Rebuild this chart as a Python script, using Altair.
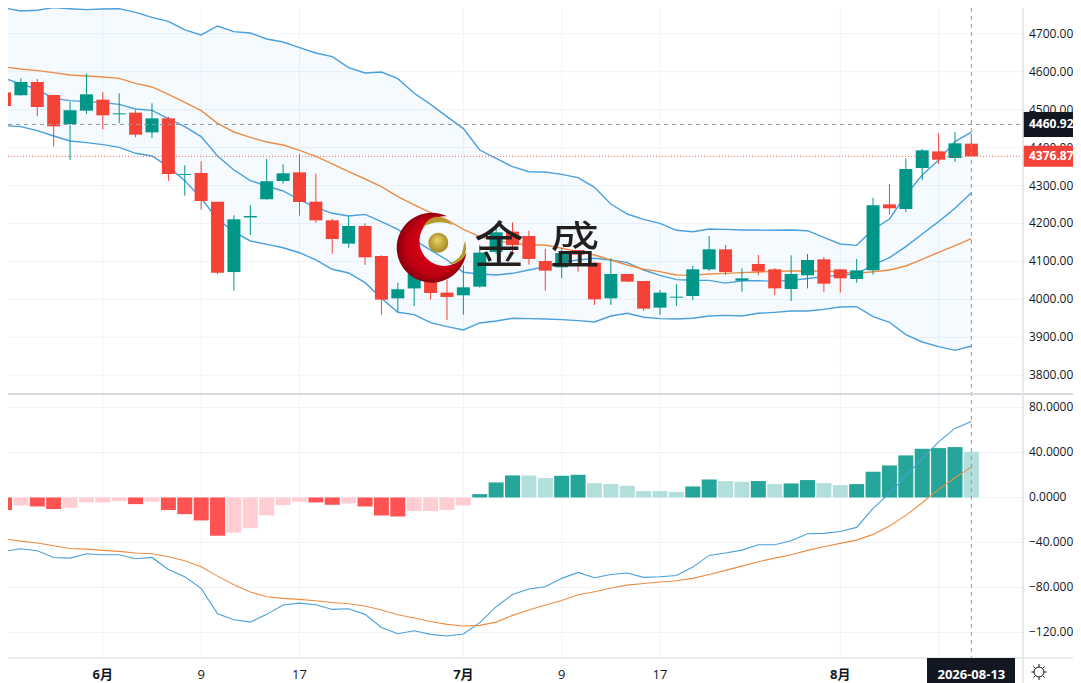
import altair as alt
import pandas as pd

opens = [4545.6,4537.7,4572.8,4538.6,4462.2,4497.3,4526.3,4487.6,4492,4440,
         4477,4328,4333,4257.5,4072,4216,4263.7,4312,4334.8,4257.5,
         4208.3,4146.9,4193.4,4114.4,4002.8,4029,4060,4017.8,4010.8,4033.6,
         4125,4178.5,4167,4101.2,4084.5,4130,4096.8,4002.8,4067,4048.5,
         3978.3,4004.6,4008.9,4079.2,4131.9,4049.3,4093.2,4079.2,4027.3,4063.4,
         4105.5,4079.2,4053.7,4076.5,4250.4,4238.1,4346.2,4390,4372.5,4410.3]
highs = [4547,4582.5,4580.7,4538.6,4521,4595.7,4546.5,4543,4499,4516.6,
         4481.5,4353.3,4363.8,4257.5,4221.5,4247.9,4370,4355.9,4383,4331.3,
         4212.7,4218.9,4200.5,4116,4044,4090,4065,4051,4090,4143.4,
         4197.8,4203,4181,4133.7,4135,4130,4098,4108.3,4067,4049,
         4024.8,4039.7,4088,4167,4143.3,4081.8,4117,4082.7,4116,4119.6,
         4111.7,4079.2,4106.4,4268,4304,4371.6,4396,4437.5,4441,4436]
lows = [4492,4537,4482.4,4403.3,4367.3,4488.5,4448,4464,4427,4425,
        4312,4273.3,4236.4,4066,4023,4169.7,4263,4305,4220.6,4202.2,
        4120.5,4136.3,4090.7,3959.8,3966,3982.6,4000,3945.8,3959.8,4031,
        4120,4125,4091.6,4023,4055.6,4073,3985.3,3985.3,4046,3970,
        3959,3982.6,3998.4,4074.8,4064.2,4020.3,4064,4011.5,3995.7,4029.1,
        4020.3,4017.7,4044,4065.1,4224,4230.2,4313.7,4356.7,4362,4376]
closes = [4509.6,4572.8,4507,4456,4498.2,4540.3,4485,4490.3,4434,4477,
          4330.4,4330.4,4259.3,4070.4,4211,4219.7,4311,4332.2,4256.6,4208.3,
          4159.1,4193.4,4110.9,3999.3,4026.6,4072,4016.9,4006.4,4031.8,4123.2,
          4176.8,4143,4106.5,4075.7,4122,4118,4000.2,4067,4046.8,3975.6,
          4017.8,4007.2,4079.2,4131.9,4072,4055.5,4073.9,4029.1,4066.9,4103.8,
          4041.4,4055.5,4076.5,4247.8,4239.9,4343.5,4392.7,4368.1,4411.2,4376.87]
band_upper = [4767.8,4759.9,4761.7,4768.7,4766,4763.4,4765.2,4766,4756.4,4743.2,
              4732.7,4709.9,4696.7,4720.4,4705.5,4701.9,4686.1,4678.2,4663.3,4649.2,
              4639.6,4610.6,4596.6,4599.2,4581.6,4543,4514,4481.5,4450,4393.6,
              4371.6,4349.7,4336.5,4335.6,4329.5,4320.7,4295.2,4251.3,4225,4211,
              4200.4,4182,4178.4,4185.4,4184.6,4182.8,4182.8,4182,4182.8,4181,
              4163.5,4145.9,4142.4,4184.6,4211.8,4275,4327.7,4367.3,4415.6,4441]
band_mid = [4582.5,4567.6,4553.5,4529.8,4523.6,4521,4518.4,4514,4501.7,4498.2,
            4476.2,4455.1,4428.8,4377.8,4341,4312.9,4298.8,4285.6,4261.9,4242.6,
            4226.8,4219.8,4224,4204.9,4184.7,4156.6,4130,4103.9,4071.4,4067,
            4064.3,4068.7,4077.5,4086.3,4097.7,4103.9,4108.3,4103.9,4096.8,4077.5,
            4063.4,4052,4050.3,4050,4043,4049,4049,4048,4050,4055,
            4060,4064,4067,4090.6,4110,4138.9,4172.3,4204.8,4239.9,4281]
band_lower = [4457.8,4455.1,4444.6,4430.6,4417.4,4413,4407.7,4400.7,4384.9,4377.9,
              4349.7,4312.9,4266.3,4211,4178.5,4153.9,4145,4136,4123,4103.9,
              4079.3,4069.6,4044.1,4002.8,3966,3959.8,3938.7,3928.2,3919.4,3937.9,
              3943.1,3950.2,3949.3,3948.4,3946.6,3944,3940.5,3956.3,3963.3,3952.8,
              3949.3,3948.4,3950.2,3956.2,3958,3956.2,3963.3,3965.9,3969.4,3969.4,
              3973.8,3980,3980.8,3954.5,3939.6,3907,3887.7,3875.4,3865.8,3877.2]
ma_line = [4612.4,4607,4602.7,4597.4,4591.3,4588.7,4586,4582.5,4569.3,4559.7,
           4540.3,4519.3,4497.3,4463.9,4441.1,4427,4414.7,4406.8,4392.8,4377,
           4356.8,4336.6,4317.2,4297,4270.7,4248.8,4228.6,4209.3,4184.7,4165.3,
           4154.8,4147.8,4143.4,4143.4,4134.6,4125.8,4117,4103.9,4090.7,4079.3,
           4073.1,4064.3,4064,4066.9,4068.6,4070.4,4072.1,4073.9,4074.8,4074.8,
           4074.8,4072.1,4068.6,4073,4077.4,4088,4105.5,4124,4141.5,4160]
macd_hist = [-11.2,-7.1,-8,-10.3,-9.1,-4.4,-4.4,-3.2,-5.9,-3.8,
             -11.2,-14.8,-20.4,-34,-31.3,-27.2,-16,-6.8,-3.8,-4.4,
             -6.5,-5.3,-8,-16,-16.9,-12.1,-12.1,-11.2,-7.1,3,
             13.4,19.6,19.6,17.2,19.3,20.2,12.8,11.9,10.4,5.7,
             5.7,4.8,9.8,16,14.6,14,14.6,11.9,12.5,15.5,
             12.8,11,11.9,22.9,28.5,37.4,43.3,43.9,44.8,40.7]
macd_dif = [-47.9,-45.6,-47.3,-53.3,-53.9,-50,-50.9,-50.9,-54.5,-53.3,
            -64,-70.5,-80.8,-103.3,-108.7,-110.8,-103.9,-95.6,-93.9,-95.4,
            -99.5,-98.9,-103.9,-115.5,-121.1,-118.5,-121.7,-123.2,-121.4,-111.3,
            -97.1,-86.2,-81.4,-79.3,-71.9,-66.6,-71.3,-68.4,-67.2,-71,
            -70.5,-69.3,-61.9,-51.5,-49.4,-46.8,-42,-42,-38.5,-32.2,
            -31.9,-30.2,-26.6,-9.7,3.6,19,34.7,49.5,61.4,67.6]
macd_dea = [-37,-38.8,-40.5,-42.9,-45.3,-45.9,-47,-47.9,-49.4,-50,
            -52.7,-56.2,-61.6,-69.9,-77.6,-84.1,-88.2,-89.7,-90.6,-91.8,
            -93.3,-94.5,-96.5,-100.1,-104.2,-107.2,-110.2,-112.8,-114.3,-113.7,
            -110.8,-104.8,-100.1,-95.6,-91.5,-86.5,-83.8,-80.5,-77.9,-76.4,
            -75.2,-74,-71.9,-68.4,-64.8,-61,-57.1,-53.9,-50.9,-47,
            -43.8,-40.8,-37.9,-32.8,-25.4,-15.9,-4.7,7.2,17.6,27]

x_tick_index = [6, 12, 18, 28, 34, 40, 51]
x_tick_labels = ["6月", "9", "17", "7月", "9", "17", "8月"]
x_tick_weight = ["bold", "normal", "normal", "bold", "normal", "normal", "bold"]
extra_grid_index = [57]
price_ticks = [3800, 3900, 4000, 4100, 4200, 4300, 4400, 4500, 4600, 4700]
macd_ticks = [-120, -80, -40, 0, 40, 80]
crosshair_price = 4460.92
last_price = 4376.87
crosshair_date = "2026-08-13"
crosshair_index = 59

FONT = "Open Sans, Noto Sans CJK SC"
INK = "#131722"
GRID = "#f0f3fa"
SEP = "#e0e3eb"
UP = "#009688"
DOWN = "#f44336"
BLUE = "#4a9fdc"
ORANGE = "#ec8d44"
CROSS = "#9598a1"
LABEL_X = 1021

n = len(closes)
idx = list(range(n))
hist_state = []
for k, v in enumerate(macd_hist):
    prev = macd_hist[k - 1] if k else 0
    if v >= 0:
        hist_state.append("up strong" if v > prev else "up weak")
    else:
        hist_state.append("down strong" if v < prev else "down weak")

df = pd.DataFrame({
    "i": idx, "open": opens, "high": highs, "low": lows, "close": closes,
    "upper": band_upper, "mid": band_mid, "lower": band_lower, "ma": ma_line,
    "hist": macd_hist, "zero": [0] * n, "dif": macd_dif, "dea": macd_dea,
    "state": hist_state,
    "dir": ["up" if c >= o else "down" for o, c in zip(opens, closes)],
})

x_scale = alt.Scale(domain=[0.2136, 62.15], nice=False, zero=False, padding=0)
price_scale = alt.Scale(domain=[3750.7, 4767.8], range=[386, 0], nice=False, zero=False)
macd_scale = alt.Scale(domain=[-142.7, 92], range=[650, 386], nice=False, zero=False)

X = alt.X("i:Q", scale=x_scale, axis=None, title=None)


def py(field):
    return alt.Y(f"{field}:Q", scale=price_scale, axis=None, title=None)


def my(field):
    return alt.Y(f"{field}:Q", scale=macd_scale, axis=None, title=None)


candle_color = alt.Color("dir:N", legend=None,
                         scale=alt.Scale(domain=["up", "down"], range=[UP, DOWN]))

price_tick_df = pd.DataFrame({"v": price_ticks, "t": [f"{v:.2f}" for v in price_ticks]})
macd_tick_df = pd.DataFrame({"v": macd_ticks,
                             "t": [f"{v:.4f}".replace("-", "−") for v in macd_ticks]})
x_tick_df = pd.DataFrame({"i": x_tick_index, "t": x_tick_labels, "w": x_tick_weight})
x_grid_df = pd.DataFrame({"i": x_tick_index + extra_grid_index})

x_grid = alt.Chart(x_grid_df).mark_rule(color=GRID, strokeWidth=1).encode(
    x=X, y=alt.value(0), y2=alt.value(650))
x_bold = alt.Chart(x_tick_df[x_tick_df.w == "bold"]).mark_text(
    font=FONT, fontSize=13, fontWeight="bold", color=INK, baseline="middle").encode(
    x=X, y=alt.value(667), text="t:N")
x_plain = alt.Chart(x_tick_df[x_tick_df.w == "normal"]).mark_text(
    font=FONT, fontSize=13, color=INK, baseline="middle").encode(
    x=X, y=alt.value(667), text="t:N")

price_grid = alt.Chart(price_tick_df).mark_rule(color=GRID, strokeWidth=1).encode(
    x=alt.value(0), x2=alt.value(1015), y=py("v"))
price_labels = alt.Chart(price_tick_df).mark_text(
    font=FONT, fontSize=12, color=INK, align="left", baseline="middle").encode(
    x=alt.value(LABEL_X), y=py("v"), text="t:N")

band = alt.Chart(df).mark_area(color="#2196f3", opacity=0.05).encode(
    x=X, y=py("upper"), y2="lower:Q")
upper_line = alt.Chart(df).mark_line(color=BLUE, strokeWidth=1.4).encode(x=X, y=py("upper"))
mid_line = alt.Chart(df).mark_line(color=BLUE, strokeWidth=1.4).encode(x=X, y=py("mid"))
lower_line = alt.Chart(df).mark_line(color=BLUE, strokeWidth=1.4).encode(x=X, y=py("lower"))
ma = alt.Chart(df).mark_line(color=ORANGE, strokeWidth=1.4).encode(x=X, y=py("ma"))
wicks = alt.Chart(df).mark_rule(strokeWidth=1).encode(x=X, y=py("low"), y2="high:Q", color=candle_color)
bodies = alt.Chart(df).mark_bar(size=13, orient="vertical").encode(
    x=X, y=py("open"), y2="close:Q", color=candle_color)

level_df = pd.DataFrame({"p": [crosshair_price, last_price],
                         "t": [f"{crosshair_price:.2f}", f"{last_price:.2f}"]})
cross_line = alt.Chart(level_df.iloc[[0]]).mark_rule(
    color=CROSS, strokeWidth=1, strokeDash=[4, 4]).encode(
    x=alt.value(0), x2=alt.value(1015), y=py("p"))
last_line = alt.Chart(level_df.iloc[[1]]).mark_rule(
    color=DOWN, strokeWidth=1, strokeDash=[1, 2], opacity=0.8).encode(
    x=alt.value(0), x2=alt.value(1015), y=py("p"))
cross_box = alt.Chart(level_df.iloc[[0]]).mark_rule(color=INK, strokeWidth=25).encode(
    x=alt.value(1015), x2=alt.value(1065), y=py("p"))
last_box = alt.Chart(level_df.iloc[[1]]).mark_rule(color=DOWN, strokeWidth=21).encode(
    x=alt.value(1015), x2=alt.value(1065), y=py("p"))
level_text = alt.Chart(level_df).mark_text(
    align="left", baseline="middle", color="white", font=FONT, fontSize=12,
    fontWeight="bold").encode(x=alt.value(LABEL_X), y=py("p"), text="t:N")

price_layer = alt.layer(price_grid, band, upper_line, mid_line, lower_line, ma, wicks, bodies,
                        cross_line, last_line, price_labels, cross_box, last_box, level_text)

macd_grid = alt.Chart(macd_tick_df).mark_rule(color=GRID, strokeWidth=1).encode(
    x=alt.value(0), x2=alt.value(1015), y=my("v"))
macd_labels = alt.Chart(macd_tick_df).mark_text(
    font=FONT, fontSize=12, color=INK, align="left", baseline="middle").encode(
    x=alt.value(LABEL_X), y=my("v"), text="t:N")
hist_bars = alt.Chart(df).mark_bar(size=15, orient="vertical").encode(
    x=X, y=my("hist"), y2="zero:Q",
    color=alt.Color("state:N", legend=None, scale=alt.Scale(
        domain=["up strong", "up weak", "down strong", "down weak"],
        range=["#26a69a", "#b2dfdb", "#ff5252", "#ffcdd2"])))
dif_line = alt.Chart(df).mark_line(color=BLUE, strokeWidth=1.1).encode(x=X, y=my("dif"))
dea_line = alt.Chart(df).mark_line(color=ORANGE, strokeWidth=1.1).encode(x=X, y=my("dea"))
macd_layer = alt.layer(macd_grid, hist_bars, dif_line, dea_line, macd_labels)

cross_df = pd.DataFrame({"i": [crosshair_index], "t": [crosshair_date]})
cross_v = alt.Chart(cross_df).mark_rule(color=CROSS, strokeWidth=1, strokeDash=[4, 4]).encode(
    x=X, y=alt.value(0), y2=alt.value(650))
date_box = alt.Chart(cross_df).mark_rule(color=INK, strokeWidth=25).encode(
    x=alt.value(919), x2=alt.value(1007), y=alt.value(662.5))
date_text = alt.Chart(cross_df).mark_text(
    color="white", font=FONT, fontSize=13, fontWeight="bold", baseline="middle").encode(
    x=X, y=alt.value(667), text="t:N")

one = pd.DataFrame({"k": [0]})
sep_top = alt.Chart(one).mark_rule(color="#d6d8de", strokeWidth=2).encode(
    x=alt.value(0), x2=alt.value(1065), y=alt.value(386))
sep_bottom = alt.Chart(one).mark_rule(color=SEP, strokeWidth=1.5).encode(
    x=alt.value(0), x2=alt.value(1065), y=alt.value(650))
sep_right = alt.Chart(one).mark_rule(color=SEP, strokeWidth=1.5).encode(
    x=alt.value(1015), y=alt.value(0), y2=alt.value(675))

gear = ("M-.62,0 A.62,.62 0 1 0 .62,0 A.62,.62 0 1 0 -.62,0 Z "
        "M0,-.62 L0,-1 M0,.62 L0,1 M.62,0 L.95,0 M-.62,0 L-.95,0 "
        "M.44,-.44 L.7,-.7 M-.44,-.44 L-.7,-.7 M.44,.44 L.7,.7 M-.44,.44 L-.7,.7")
gear_icon = alt.Chart(one).mark_point(shape=gear, size=256, filled=False, stroke=INK,
                                      strokeWidth=1, opacity=1).encode(
    x=alt.value(1031), y=alt.value(664))

red_grad = {"gradient": "radial", "x1": 0.6, "y1": 0.45, "r1": 0.1, "x2": 0.5, "y2": 0.5, "r2": 0.6,
            "stops": [{"offset": 0, "color": "#e0001b"}, {"offset": 0.6, "color": "#c00012"},
                      {"offset": 1, "color": "#5e0006"}]}
gold_grad = {"gradient": "radial", "x1": 0.45, "y1": 0.35, "r1": 0.05, "x2": 0.5, "y2": 0.5, "r2": 0.6,
             "stops": [{"offset": 0, "color": "#e8d060"}, {"offset": 1, "color": "#9a7d18"}]}
crescent = "M.447,-.895 A1,1 0 1 0 .991,.135 A.71,.71 0 1 1 .447,-.895 Z"
swoosh_top = "M-.95,.3 Q-.2,-.9 .95,.2 Q.1,-.2 -.95,.3 Z"
swoosh_right = "M-.55,.75 Q.1,.5 .3,.1 Q.4,-.3 .5,-.7 Q.65,-.1 .45,.3 Q.15,.75 -.55,.75 Z"

logo_red = alt.Chart(one).mark_point(shape=crescent, size=4900, filled=True, fill=red_grad,
                                     opacity=1).encode(x=alt.value(423.7), y=alt.value(239.7))
logo_ball = alt.Chart(one).mark_point(shape="circle", size=400, filled=True, fill=gold_grad,
                                      opacity=1).encode(x=alt.value(430.3), y=alt.value(234.7))
logo_top = alt.Chart(one).mark_point(shape=swoosh_top, size=1024, filled=True, fill="#b39a2c",
                                     opacity=1).encode(x=alt.value(430), y=alt.value(214))
logo_right = alt.Chart(one).mark_point(shape=swoosh_right, size=1024, filled=True, fill="#b39a2c",
                                       opacity=1).encode(x=alt.value(449), y=alt.value(244))
name_df = pd.DataFrame({"t": ["金", "盛"], "px": [491, 567]})
logo_text = alt.Chart(name_df).mark_text(
    font="Noto Sans CJK SC", fontSize=50, color="#221f1f", baseline="middle", align="center").encode(
    x=alt.X("px:Q", scale=None), y=alt.value(240), text="t:N")

chart = alt.layer(
    x_grid, price_layer, macd_layer,
    cross_v, sep_top, sep_bottom, sep_right, x_bold, x_plain, date_box, date_text, gear_icon,
    logo_red, logo_ball, logo_top, logo_right, logo_text,
).resolve_scale(y="independent", color="independent").properties(
    width=1015, height=650,
    autosize=alt.AutoSizeParams(type="none"),
    padding={"left": 0, "top": 0, "right": 50, "bottom": 25},
    background="white",
).configure_view(stroke=None)

chart.save("out.html", embed_options={"renderer": "svg", "actions": False})
